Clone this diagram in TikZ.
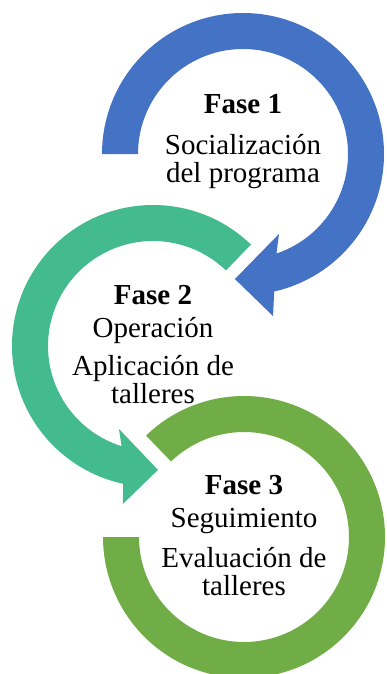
\documentclass[tikz,border=0pt]{standalone}
\usepackage{fontspec}
\setmainfont{Liberation Serif}
\usetikzlibrary{calc}
\definecolor{faseblue}{HTML}{4472C4}
\definecolor{faseteal}{HTML}{44BA8F}
\definecolor{fasegreen}{HTML}{70AD47}
\begin{document}
\begin{tikzpicture}[x=1pt,y=1pt,
		fasetext/.style={align=center,anchor=base,inner sep=0pt,font=\fontsize{29}{28}\selectfont}]
	\useasboundingbox (0,0) rectangle (386,-674);
	
	\coordinate (c1) at (243,-154);
	\coordinate (c2) at (153,-346);
	\coordinate (c3) at (244,-537);
	
	\fill[faseblue] ($(c1)+(180:141)$) arc[start angle=180,end angle=-77.2,radius=141]
		-- ($(c1)+(-79.5:164.8)$) -- ($(c1)+(-93.7:125.3)$) -- ($(c1)+(-65.8:87.7)$)
		-- ($(c1)+(-71.4:105)$) arc[start angle=-71.4,end angle=180,radius=105] -- cycle;
	\fill[faseteal] ($(c2)+(46:141)$) arc[start angle=46,end angle=257.8,radius=141]
		-- ($(c2)+(259.2:160.8)$) -- ($(c2)+(272.3:124)$) -- ($(c2)+(247.7:89.7)$)
		-- ($(c2)+(252.6:105)$) arc[start angle=252.6,end angle=46,radius=105] -- cycle;
	\fill[fasegreen] ($(c3)+(134:141)$) arc[start angle=134,end angle=-180,radius=141]
		-- ($(c3)+(180:105)$) arc[start angle=-180,end angle=134,radius=105] -- cycle;
	
	\node[fasetext] (fase1) at (243,-182) {\textbf{Fase 1}\\[13pt] Socialización\\ del programa};
	\node[fasetext] (fase2) at (153,-403) {\textbf{Fase 2}\\[5pt] Operación\\[10pt] Aplicación de\\ talleres};
	\node[fasetext] (fase3) at (244,-595) {\textbf{Fase 3}\\[5pt] Seguimiento\\[12pt] Evaluación de\\ talleres};
\end{tikzpicture}
\end{document}
